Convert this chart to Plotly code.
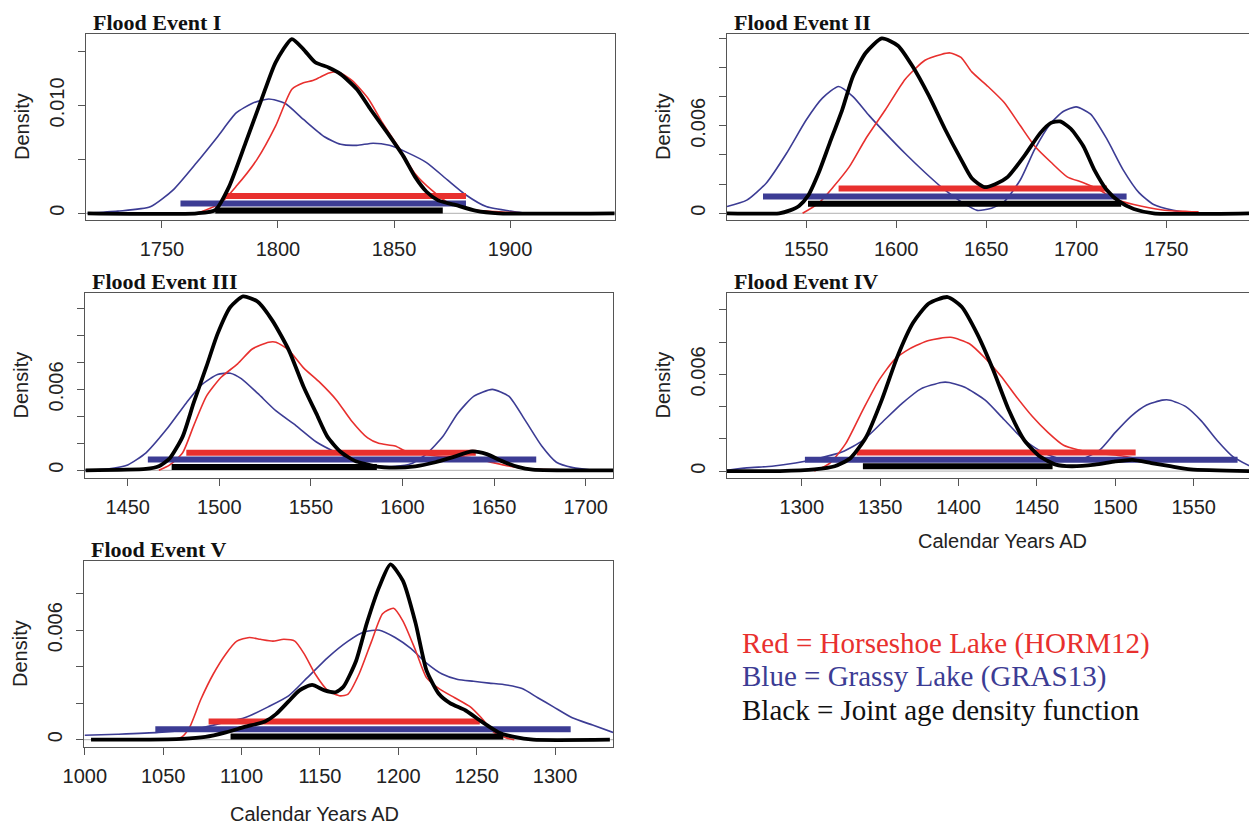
import plotly.graph_objects as go

W, H = 1249, 826

# ---------------- data ----------------
# Flood Event I
p1_black_x = [1718,1765,1773,1779,1786,1793,1799,1806,1811,1816,1822,1827,1834,1840,1847,1854,1859,1864,1869,1876,1885,1895,1945]
p1_black_y = [0,0,0.0003,0.0025,0.0065,0.0106,0.014,0.01615,0.0152,0.014,0.0135,0.0129,0.0115,0.0096,0.0075,0.0053,0.0034,0.002,0.0012,0.0008,0.00025,0,0]
p1_red_x = [1765,1775,1782,1791,1799,1806,1811,1815,1818,1822,1826,1832,1839,1845,1852,1859,1866,1874,1885,1898,1915]
p1_red_y = [0,0.0009,0.0025,0.005,0.0081,0.0115,0.0121,0.0123,0.0126,0.013,0.0131,0.0123,0.0106,0.0084,0.0061,0.0037,0.0022,0.0009,0.0003,0.0001,0]
p1_blue_x = [1718,1731,1745,1755,1765,1774,1782,1789,1796,1803,1811,1820,1827,1834,1841,1848,1856,1864,1873,1881,1890,1902,1907]
p1_blue_y = [0,0.0002,0.0006,0.0022,0.0047,0.0071,0.0093,0.0102,0.0106,0.0102,0.0087,0.0071,0.0064,0.0063,0.0065,0.0063,0.0056,0.0047,0.0031,0.0017,0.0006,0.00015,0]
p1_bars = {"red": (1777, 1881, 0.0016), "blue": (1758, 1881, 0.0009), "black": (1773, 1871, 0.00025)}

# Flood Event II
p2_black_x = [1506,1535,1541,1546,1551,1557,1563,1570,1576,1583,1592,1601,1609,1618,1627,1636,1642,1649,1655,1662,1671,1680,1686,1691,1697,1704,1710,1717,1724,1732,1743,1796]
p2_black_y = [0,0,0.0002,0.0005,0.0012,0.0028,0.0048,0.0071,0.0094,0.011,0.012,0.0115,0.0101,0.0081,0.0058,0.0037,0.0024,0.0018,0.002,0.0025,0.0039,0.0055,0.0062,0.0063,0.0058,0.0046,0.003,0.0016,0.0008,0.0003,0,0]
p2_red_x = [1548,1557,1565,1574,1583,1594,1605,1616,1625,1630,1636,1642,1651,1660,1669,1677,1686,1695,1704,1713,1721,1732,1748,1768]
p2_red_y = [0,0.0007,0.0018,0.0032,0.0051,0.0071,0.0092,0.0105,0.0109,0.011,0.0107,0.0097,0.0087,0.0076,0.006,0.0046,0.0035,0.0025,0.0021,0.0016,0.001,0.0006,0.00023,0.0001]
p2_blue_x = [1506,1517,1528,1539,1550,1559,1568,1576,1585,1594,1605,1616,1627,1636,1645,1653,1660,1669,1677,1686,1693,1700,1708,1717,1726,1735,1743,1754,1765]
p2_blue_y = [0.00046,0.0009,0.0021,0.0041,0.0064,0.0079,0.0087,0.008,0.0067,0.0055,0.0041,0.0028,0.0016,0.0008,0.0002,0.00035,0.0008,0.0023,0.0044,0.0062,0.007,0.0073,0.0068,0.0051,0.003,0.0014,0.0006,0.0002,0]
p2_bars = {"red": (1568, 1717, 0.0017), "blue": (1526, 1728, 0.00115), "black": (1551, 1725, 0.00065)}

# Flood Event III
p3_black_x = [1427,1460,1467,1473,1480,1486,1493,1499,1506,1513,1521,1529,1538,1546,1553,1559,1566,1574,1585,1596,1607,1618,1628,1638,1646,1654,1663,1671,1715]
p3_black_y = [0,0.0001,0.0003,0.0009,0.0025,0.005,0.0077,0.0101,0.0121,0.0129,0.0125,0.0111,0.0089,0.0062,0.0042,0.0025,0.0014,0.0007,0.0003,0.0002,0.0003,0.0006,0.001,0.0014,0.0012,0.0007,0.00025,0.00005,0]
p3_red_x = [1467,1473,1480,1486,1493,1501,1510,1518,1527,1531,1538,1546,1555,1564,1572,1581,1587,1596,1602,1611,1622,1633,1641,1650,1661,1671,1704]
p3_red_y = [0,0.0004,0.0013,0.0033,0.0055,0.0069,0.0079,0.009,0.0095,0.0095,0.0089,0.0076,0.0065,0.0052,0.0037,0.0024,0.002,0.0018,0.0014,0.0012,0.001,0.001,0.00085,0.00055,0.00025,0.0001,0]
p3_blue_x = [1427,1439,1450,1460,1471,1482,1490,1499,1506,1512,1521,1531,1542,1553,1564,1574,1585,1596,1605,1613,1622,1630,1639,1649,1658,1667,1676,1684,1693,1704]
p3_blue_y = [0,0.0001,0.0004,0.0013,0.003,0.005,0.0063,0.0071,0.0072,0.0068,0.0057,0.0044,0.0033,0.0021,0.0013,0.0007,0.00035,0.0003,0.0005,0.0012,0.0025,0.0042,0.0055,0.006,0.0055,0.0037,0.0018,0.0006,0.0002,0]
p3_bars = {"red": (1482, 1640, 0.0013), "blue": (1461, 1673, 0.0008), "black": (1474, 1586, 0.00025)}

# Flood Event IV
p4_black_x = [1252,1286,1308,1321,1331,1341,1351,1361,1371,1381,1393,1402,1412,1422,1432,1442,1452,1462,1472,1487,1500,1511,1523,1535,1548,1586]
p4_black_y = [0,0,0.0001,0.0003,0.0008,0.0021,0.0044,0.0071,0.0092,0.0104,0.0108,0.0102,0.0085,0.0063,0.0038,0.0019,0.0009,0.0004,0.0003,0.0004,0.0006,0.0007,0.0005,0.0003,0.0001,0]
p4_red_x = [1308,1318,1328,1339,1349,1359,1369,1381,1395,1407,1417,1427,1437,1447,1457,1467,1477,1487,1500,1513]
p4_red_y = [0,0.0005,0.0017,0.0038,0.0056,0.0069,0.0076,0.0081,0.0083,0.0079,0.007,0.0059,0.0046,0.0034,0.0024,0.0016,0.0013,0.0011,0.001,0.0008]
p4_blue_x = [1252,1265,1281,1296,1311,1326,1339,1351,1364,1376,1389,1394,1404,1417,1429,1442,1455,1467,1480,1490,1500,1510,1520,1530,1535,1545,1555,1565,1575,1586]
p4_blue_y = [0.00004,0.0002,0.0003,0.0005,0.0008,0.0012,0.0019,0.003,0.0042,0.0051,0.0055,0.0055,0.0052,0.0044,0.0032,0.0019,0.0011,0.0007,0.0008,0.0013,0.0024,0.0034,0.0041,0.0044,0.0044,0.004,0.0031,0.0019,0.0009,0.0003]
p4_bars = {"red": (1335, 1513, 0.00115), "blue": (1302, 1578, 0.0007), "black": (1339, 1460, 0.0003)}

# Flood Event V
p5_black_x = [1004,1037,1062,1077,1090,1102,1115,1122,1130,1137,1145,1153,1160,1165,1173,1180,1188,1195,1203,1211,1218,1226,1233,1243,1253,1264,1274,1286,1335]
p5_black_y = [0,0,0.00004,0.00015,0.0004,0.0007,0.001,0.0014,0.0021,0.0027,0.003,0.0027,0.0026,0.0029,0.0043,0.0064,0.0084,0.0096,0.0087,0.0064,0.0038,0.0025,0.002,0.0016,0.001,0.0004,0.00015,0,0]
p5_red_x = [1057,1062,1067,1074,1082,1090,1097,1105,1112,1120,1127,1134,1140,1147,1155,1163,1168,1175,1183,1190,1197,1203,1211,1218,1226,1236,1246,1253,1261,1269,1274]
p5_red_y = [0,0.00015,0.0007,0.0022,0.0036,0.0047,0.0054,0.0056,0.0055,0.0054,0.0055,0.0054,0.0047,0.0036,0.0027,0.0024,0.0025,0.0036,0.0054,0.0069,0.0072,0.0065,0.0049,0.0034,0.0028,0.0023,0.0018,0.0012,0.0004,0.0001,0]
p5_blue_x = [1000,1021,1047,1072,1087,1102,1117,1130,1142,1155,1168,1178,1188,1198,1208,1218,1228,1238,1248,1258,1269,1279,1289,1299,1311,1324,1337]
p5_blue_y = [0.00024,0.0003,0.0004,0.0006,0.0009,0.0012,0.0018,0.0024,0.0034,0.0045,0.0054,0.0059,0.006,0.0056,0.005,0.0042,0.0036,0.0033,0.0032,0.0031,0.003,0.0028,0.0023,0.0018,0.0012,0.0008,0.0004]
p5_bars = {"red": (1079, 1252, 0.001), "blue": (1045, 1310, 0.00057), "black": (1093, 1267, 0.00018)}

titles = ["Flood Event I", "Flood Event II", "Flood Event III", "Flood Event IV", "Flood Event V"]
x_ticks = [[1750, 1800, 1850, 1900], [1550, 1600, 1650, 1700, 1750],
           [1450, 1500, 1550, 1600, 1650, 1700], [1300, 1350, 1400, 1450, 1500, 1550],
           [1000, 1050, 1100, 1150, 1200, 1250, 1300]]
y_ticks = [[0, 0.005, 0.010, 0.015],
           [0, 0.002, 0.004, 0.006, 0.008, 0.010, 0.012],
           [0, 0.002, 0.004, 0.006, 0.008, 0.010, 0.012],
           [0, 0.002, 0.004, 0.006, 0.008, 0.010],
           [0, 0.002, 0.004, 0.006, 0.008]]
y_ticktext = [["0", "", "0.010", ""],
              ["0", "", "", "0.006", "", "", ""],
              ["0", "", "", "0.006", "", "", ""],
              ["0", "", "", "0.006", "", ""],
              ["0", "", "", "0.006", ""]]
legend_lines = ["Red = Horseshoe Lake (HORM12)", "Blue = Grassy Lake (GRAS13)", "Black = Joint age density function"]

# ---------------- layout geometry (pixels) ----------------
boxes = [  # left, right, top, bottom
    (86, 615, 34, 220),
    (727, 1249, 34, 220),
    (85, 613, 293, 478),
    (727, 1249, 293, 478),
    (84, 613, 561, 747),
]
x_ranges = [[1717.3, 1945.2], [1506, 1796], [1426.7, 1714.9], [1252.3, 1585.3], [999.5, 1337]]
y_ranges = [[-0.00062, 0.01662], [-0.00046, 0.0123], [-0.00057, 0.01315], [-0.00043, 0.01105], [-0.0004, 0.00979]]

RED = "#e8302e"
BLUE = "#3c3c94"
BLACK = "#000000"

panels = [
    (p1_black_x, p1_black_y, p1_red_x, p1_red_y, p1_blue_x, p1_blue_y, p1_bars),
    (p2_black_x, p2_black_y, p2_red_x, p2_red_y, p2_blue_x, p2_blue_y, p2_bars),
    (p3_black_x, p3_black_y, p3_red_x, p3_red_y, p3_blue_x, p3_blue_y, p3_bars),
    (p4_black_x, p4_black_y, p4_red_x, p4_red_y, p4_blue_x, p4_blue_y, p4_bars),
    (p5_black_x, p5_black_y, p5_red_x, p5_red_y, p5_blue_x, p5_blue_y, p5_bars),
]

fig = go.Figure()
layout = dict(width=W, height=H, autosize=False, margin=dict(l=0, r=0, t=0, b=0, pad=0),
              plot_bgcolor="white", paper_bgcolor="white", showlegend=False)
annotations = []
shapes = []
AX_FONT = dict(family="Liberation Sans, Arial, sans-serif", size=20, color="#222")

for i, (bx, by, rx, ry, ux, uy, bars) in enumerate(panels):
    n = i + 1
    xa = "x" if n == 1 else f"x{n}"
    ya = "y" if n == 1 else f"y{n}"
    l, r, t, b = boxes[i]
    layout["xaxis" if n == 1 else f"xaxis{n}"] = dict(
        domain=[l / W, r / W], range=x_ranges[i], anchor=ya, automargin=False,
        tickvals=x_ticks[i], ticktext=[str(v) for v in x_ticks[i]],
        showline=True, mirror=True, linecolor="#555", linewidth=1,
        ticks="outside", ticklen=7, tickcolor="#555", showgrid=False, zeroline=False,
        tickfont=AX_FONT, ticklabelstandoff=4)
    layout["yaxis" if n == 1 else f"yaxis{n}"] = dict(
        domain=[1 - b / H, 1 - t / H], range=y_ranges[i], anchor=xa, automargin=False,
        tickvals=y_ticks[i], ticktext=y_ticktext[i], tickangle=-90,
        showline=True, mirror=True, linecolor="#555", linewidth=1,
        ticks="outside", ticklen=7, tickcolor="#555", showgrid=False, zeroline=False,
        tickfont=AX_FONT, ticklabelstandoff=6)
    shapes.append(dict(type="line", xref=f"{xa} domain", x0=0, x1=1, yref=ya, y0=0, y1=0,
                       line=dict(color="#b0b0b0", width=1), layer="below"))
    fig.add_trace(go.Scatter(x=ux, y=uy, mode="lines", xaxis=xa, yaxis=ya,
                             line=dict(color=BLUE, width=1.6, shape="spline", smoothing=0.6)))
    fig.add_trace(go.Scatter(x=rx, y=ry, mode="lines", xaxis=xa, yaxis=ya,
                             line=dict(color=RED, width=1.6, shape="spline", smoothing=0.6)))
    for key, col in (("red", RED), ("blue", BLUE), ("black", BLACK)):
        x0, x1, yv = bars[key]
        fig.add_trace(go.Scatter(x=[x0, x1], y=[yv, yv], mode="lines", xaxis=xa, yaxis=ya,
                                 line=dict(color=col, width=6)))
    fig.add_trace(go.Scatter(x=bx, y=by, mode="lines", xaxis=xa, yaxis=ya,
                             line=dict(color=BLACK, width=3.8, shape="spline", smoothing=0.6)))
    annotations.append(dict(text=f"<b>{titles[i]}</b>", xref="paper", yref="paper",
                            x=(l + 5) / W, y=1 - (t - 12) / H, xanchor="left", yanchor="middle",
                            showarrow=False,
                            font=dict(family="Liberation Serif, Times New Roman, serif", size=22, color="#111")))
    annotations.append(dict(text="Density", xref="paper", yref="paper", textangle=-90,
                            x=(l - 64) / W, y=1 - ((t + b) / 2) / H, xanchor="center", yanchor="middle",
                            showarrow=False, font=AX_FONT))

annotations.append(dict(text="Calendar Years AD", xref="paper", yref="paper",
                        x=1002 / W, y=1 - 541 / H, xanchor="center", yanchor="middle",
                        showarrow=False, font=AX_FONT))
annotations.append(dict(text="Calendar Years AD", xref="paper", yref="paper",
                        x=314 / W, y=1 - 814 / H, xanchor="center", yanchor="middle",
                        showarrow=False, font=AX_FONT))
for j, (txt, col) in enumerate(zip(legend_lines, [RED, BLUE, "#111"])):
    annotations.append(dict(text=txt, xref="paper", yref="paper",
                            x=740 / W, y=1 - (643 + 33.5 * j) / H, xanchor="left", yanchor="middle",
                            showarrow=False,
                            font=dict(family="Liberation Serif, Times New Roman, serif", size=29, color=col)))

layout["annotations"] = annotations
layout["shapes"] = shapes
fig.update_layout(**layout)
fig.write_html("out.html", config={"displayModeBar": False},
               post_script="document.body.style.margin='0';document.body.style.overflow='hidden';")
